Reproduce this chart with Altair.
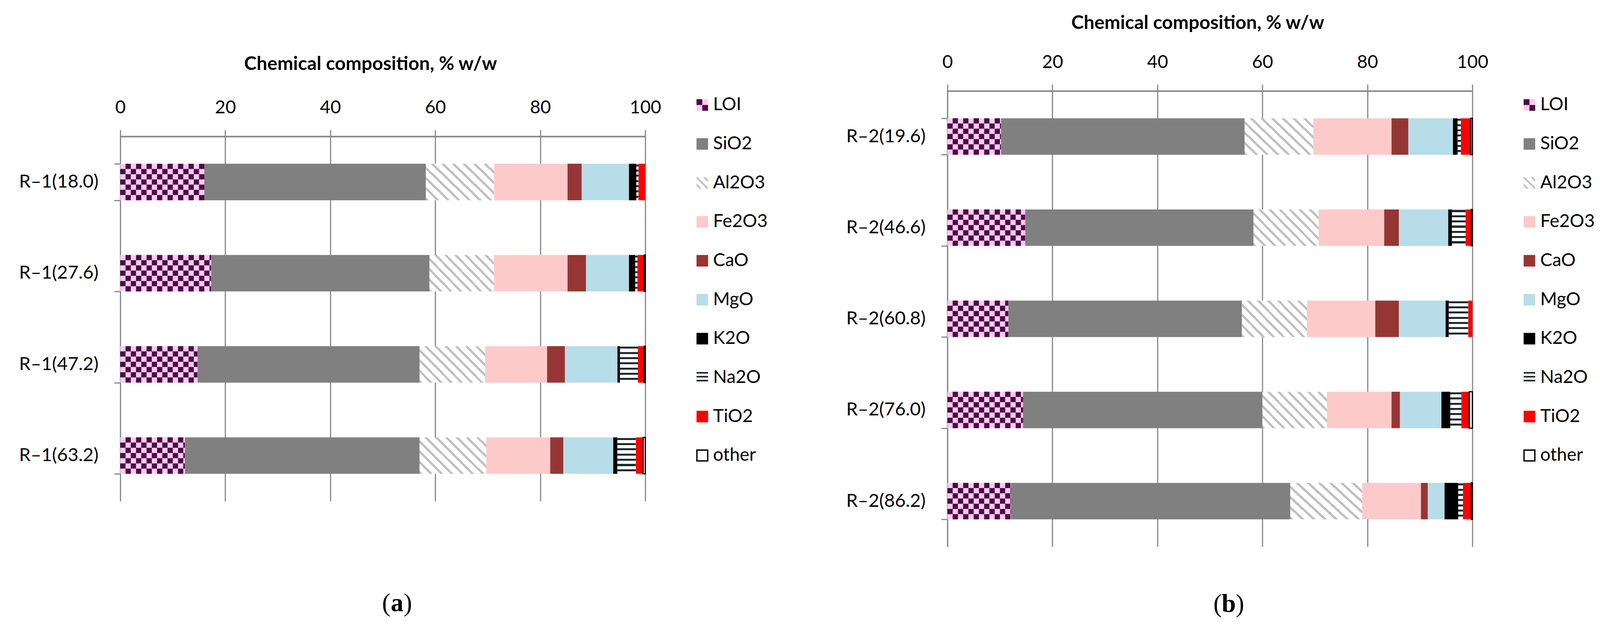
import altair as alt
import pandas as pd

components = ["LOI", "SiO2", "Al2O3", "Fe2O3", "CaO", "MgO", "K2O", "Na2O", "TiO2", "other"]

samples_1 = ["R–1(18.0)", "R–1(27.6)", "R–1(47.2)", "R–1(63.2)"]
samples_2 = ["R–2(19.6)", "R–2(46.6)", "R–2(60.8)", "R–2(76.0)", "R–2(86.2)"]

# % w/w per sample, same order as components
comp_1 = [
    [16.0, 42.2, 13.0, 14.0, 2.7, 9.0, 1.4, 0.4, 1.3, 0.0],
    [17.3, 41.6, 12.3, 14.0, 3.5, 8.2, 1.2, 0.4, 1.3, 0.2],
    [14.7, 42.3, 12.5, 11.8, 3.4, 10.0, 0.5, 3.4, 1.2, 0.2],
    [12.3, 44.7, 12.7, 12.2, 2.5, 9.5, 0.8, 3.5, 1.4, 0.4],
]
comp_2 = [
    [10.2, 46.4, 13.1, 14.9, 3.2, 8.5, 0.9, 0.6, 1.9, 0.3],
    [14.8, 43.5, 12.4, 12.5, 2.8, 9.4, 0.7, 2.6, 1.1, 0.2],
    [11.6, 44.5, 12.4, 13.0, 4.5, 8.9, 0.6, 3.7, 0.8, 0.0],
    [14.4, 45.6, 12.3, 12.3, 1.6, 7.9, 1.7, 2.1, 1.5, 0.6],
    [12.1, 53.2, 13.7, 11.2, 1.3, 3.2, 2.6, 0.9, 1.6, 0.2],
]

# solid fills (the others are patterns)
solid_colors = {"SiO2": "#808080", "Fe2O3": "#FDCACA", "CaO": "#963634",
                "MgO": "#B7DDE8", "K2O": "#000000", "TiO2": "#FF0000"}
LOI_LIGHT = "#F8CCF1"
LOI_DARK = "#4E0A45"
HATCH = "#BFBFBF"
NA_DARK = "#1C2A30"
GRAY = "#878787"
FONT = "Lato"


def stripes(n, frac, color, start=0.0):
    stops = [{"offset": 0, "color": "white"}]
    for i in range(n):
        a = (i + start) / n
        b = (i + start + frac) / n
        stops += [{"offset": a, "color": "white"}, {"offset": a, "color": color},
                  {"offset": b, "color": color}, {"offset": b, "color": "white"}]
    stops.append({"offset": 1, "color": "white"})
    return stops


al_fill = {"gradient": "linear", "x1": 0, "y1": 1, "x2": 1.19, "y2": 0.346,
           "stops": stripes(10, 0.3, HATCH)}
na_fill = {"gradient": "linear", "x1": 0, "y1": 0, "x2": 0, "y2": 1,
           "stops": stripes(7, 0.38, NA_DARK, 0.12)}
al_key = {"gradient": "linear", "x1": 0, "y1": 1, "x2": 1, "y2": 0,
          "stops": stripes(3, 0.3, HATCH, 0.35)}
na_key = {"gradient": "linear", "x1": 0, "y1": 0, "x2": 0, "y2": 1,
          "stops": stripes(3, 0.4, NA_DARK, 0.1)}


def long_table(samples, rows):
    recs = []
    for s, vals in zip(samples, rows):
        start = 0.0
        for c, v in zip(components, vals):
            if v > 0:
                recs.append({"sample": s, "component": c, "start": start, "end": start + v})
            start += v
    return pd.DataFrame(recs)


def checker(df):
    # dark squares of the LOI checkerboard, one unit wide, 7 rows per bar
    recs = []
    for _, r in df[df["component"] == "LOI"].iterrows():
        k = 0
        while k < r["end"]:
            for row in range(7):
                if (k + row) % 2 == 1:
                    recs.append({"sample": r["sample"], "row": row,
                                 "start": k, "end": min(k + 1, r["end"])})
            k += 1
    return pd.DataFrame(recs)


color_scale = alt.Scale(domain=list(solid_colors), range=list(solid_colors.values()))


def panel(samples, rows, height, letter, cap_x, cap_y, title_y):
    df = long_table(samples, rows)
    cells = checker(df)

    x_axis = alt.Axis(orient="top", values=[0, 20, 40, 60, 80, 100], format="d",
                      title="Chemical composition, % w/w", titleFont=FONT, titleFontSize=49,
                      titleFontWeight="bold", titleColor="black", titleX=649, titleY=title_y,
                      titleAlign="center", titleBaseline="middle",
                      grid=True, gridColor=GRAY, gridWidth=3,
                      domainColor=GRAY, domainWidth=4, tickColor=GRAY, tickWidth=3, tickSize=17,
                      labelFont=FONT, labelFontSize=47, labelColor="black", labelPadding=57,
                      labelBaseline="middle", labelFlush=False, labelOverlap=False)
    y_axis = alt.Axis(title=None, grid=False, domainColor=GRAY, domainWidth=3,
                      tickBand="extent", tickColor=GRAY, tickWidth=3, tickSize=16,
                      labelFont=FONT, labelFontSize=48, labelColor="black",
                      labelPadding=41, labelLimit=400)

    x = alt.X("start:Q", scale=alt.Scale(domain=[0, 100], nice=False), axis=x_axis)
    x2 = alt.X2("end:Q")
    y = alt.Y("sample:N", sort=samples,
              scale=alt.Scale(paddingInner=0.6, paddingOuter=0.3), axis=y_axis)

    base = alt.Chart(df)
    solid = base.transform_filter(
        alt.FieldOneOfPredicate(field="component", oneOf=list(solid_colors))
    ).mark_bar().encode(
        x=x, x2=x2, y=y,
        color=alt.Color("component:N", scale=color_scale, legend=None))
    loi = base.transform_filter("datum.component == 'LOI'").mark_bar(
        color=LOI_LIGHT).encode(x=x, x2=x2, y=y)
    loi_cells = alt.Chart(cells).mark_bar(color=LOI_DARK).encode(
        x=x, x2=x2, y=y,
        yOffset=alt.YOffset("row:O", scale=alt.Scale(paddingInner=0, paddingOuter=0)))
    al = base.transform_filter("datum.component == 'Al2O3'").mark_bar(
        fill=al_fill).encode(x=x, x2=x2, y=y)
    na = base.transform_filter("datum.component == 'Na2O'").mark_bar(
        fill=na_fill).encode(x=x, x2=x2, y=y)
    other = base.transform_filter("datum.component == 'other'").mark_bar(
        fill="white", stroke="black", strokeWidth=3).encode(x=x, x2=x2, y=y)
    bars = alt.layer(solid, loi, loi_cells, al, na, other)

    # legend, centred 100px above the plot centre
    c = height / 2 - 100
    leg_df = pd.DataFrame({"component": components, "li": list(range(len(components)))})
    ly = alt.Y("li:Q", scale=alt.Scale(domain=[0, 9], range=[c - 454.5, c + 454.5],
                                       nice=False, zero=False), axis=None)
    kx = alt.value(1510)
    leg = alt.Chart(leg_df)
    key_solid = leg.transform_filter(
        alt.FieldOneOfPredicate(field="component", oneOf=list(solid_colors))
    ).mark_square(size=900, opacity=1).encode(
        x=kx, y=ly, color=alt.Color("component:N", scale=color_scale, legend=None))
    key_loi = leg.transform_filter("datum.component == 'LOI'").mark_square(
        size=900, opacity=1, fill=LOI_LIGHT).encode(x=kx, y=ly)
    key_loi_a = leg.transform_filter("datum.component == 'LOI'").mark_square(
        size=225, opacity=1, fill=LOI_DARK, xOffset=-7.5, yOffset=-7.5).encode(x=kx, y=ly)
    key_loi_b = leg.transform_filter("datum.component == 'LOI'").mark_square(
        size=225, opacity=1, fill=LOI_DARK, xOffset=7.5, yOffset=7.5).encode(x=kx, y=ly)
    key_al = leg.transform_filter("datum.component == 'Al2O3'").mark_square(
        size=900, opacity=1, fill=al_key).encode(x=kx, y=ly)
    key_na = leg.transform_filter("datum.component == 'Na2O'").mark_square(
        size=900, opacity=1, fill=na_key).encode(x=kx, y=ly)
    key_other = leg.transform_filter("datum.component == 'other'").mark_square(
        size=784, opacity=1, fill="white", stroke="black", strokeWidth=3.5).encode(x=kx, y=ly)
    key_text = leg.mark_text(align="left", baseline="middle", font=FONT, fontSize=47,
                             color="black").encode(x=alt.value(1538), y=ly, text="component:N")
    legend = alt.layer(key_solid, key_loi, key_loi_a, key_loi_b, key_al, key_na,
                       key_other, key_text)

    # caption "(a)" with a bold letter
    half = 17 if letter == "a" else 18
    cap = []
    for t, dx, align, weight in [("(", -half, "right", "normal"),
                                 (letter, 0, "center", "bold"),
                                 (")", half, "left", "normal")]:
        cap.append(alt.Chart(pd.DataFrame({"t": [t]})).mark_text(
            font="Liberation Serif", fontSize=66, fontWeight=weight, align=align,
            baseline="middle", color="black").encode(
            x=alt.value(cap_x + dx), y=alt.value(cap_y), text="t:N"))

    return alt.layer(bars, legend, *cap).resolve_scale(y="independent").properties(
        width=1362, height=height)


left = panel(samples_1, comp_1, 946, "a", 718, 1211, -188)
right = panel(samples_2, comp_2, 1182, "b", 730, 1331, -176)

chart = alt.hconcat(left, right, spacing=784, bounds="flush", center=True).properties(
    padding={"left": 40, "top": 17, "right": 5, "bottom": 5}
).configure_view(stroke=None)

chart.save("out.html", embed_options={"renderer": "svg", "actions": False})
